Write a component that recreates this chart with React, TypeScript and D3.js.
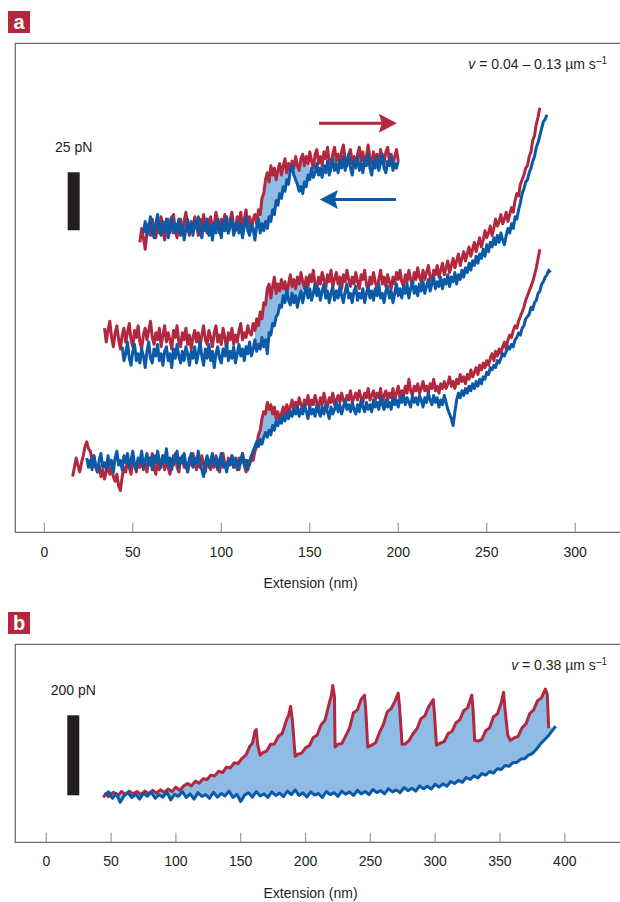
import React from 'react';
import * as d3 from 'd3';

// ---------- colours ----------
const RED = '#b1283f';
const BLUE = '#0b5aa7';
const FILL = '#8fbbe4';
const INK = '#231f20';
const AXIS = '#6e6e6e';
const TICK = '#9a9a9a';
const FONT = '"Liberation Sans", Arial, Helvetica, sans-serif';

// ---------- panel a data (extension nm, force pN, sampled every aStep nm) ----------
const aTicks = [0, 50, 100, 150, 200, 250, 300];
const aStep = 1;

const aTopRedStart = 54;
const aTopRed = [
  125, 131, 127, 122, 129, 133, 128, 135, 131, 127,
  133, 129, 136, 130, 126, 132, 135, 129, 133, 137,
  130, 127, 132, 135, 129, 134, 138, 131, 128, 134,
  130, 136, 133, 128, 135, 131, 137, 132, 129, 134,
  136, 130, 133, 138, 134, 129, 135, 131, 137, 133,
  129, 135, 138, 132, 130, 136, 133, 138, 131, 135,
  139, 132, 136, 130, 135, 137, 133, 139, 137, 144,
  146, 152, 155, 151, 158, 154, 157, 152, 156, 159,
  154, 158, 161, 155, 159, 156, 160, 157, 162, 158,
  156, 161, 163, 158, 162, 159, 164, 160, 157, 163,
  165, 159, 162, 158, 164, 161, 166, 160, 158, 163,
  166, 160, 163, 159, 164, 167, 161, 158, 163, 165,
  159, 162, 157, 163, 166, 160, 164, 158, 162, 167,
  161, 159, 164, 160, 163, 158, 165, 161, 159, 164,
  166, 160, 163, 158, 162, 165, 160,
];
const aTopBlueStart = 56;
const aTopBlue = [
  129, 134, 128, 131, 136, 130, 127, 133, 137, 131,
  128, 134, 130, 135, 127, 132, 136, 129, 133, 130,
  135, 128, 132, 126, 131, 135, 129, 133, 128, 134,
  131, 136, 129, 127, 133, 130, 135, 128, 132, 126,
  133, 129, 135, 131, 127, 134, 130, 136, 129, 132,
  135, 128, 131, 134, 129, 133, 127, 132, 136, 130,
  128, 133, 131, 126, 132, 135, 129, 133, 130, 134,
  131, 136, 134, 139, 137, 143, 141, 146, 144, 149,
  147, 152, 150, 156, 158, 154, 152, 150, 147, 149,
  146, 151, 149, 154, 152, 157, 153, 155, 159, 154,
  157, 153, 158, 155, 160, 154, 157, 161, 156, 159,
  155, 160, 157, 162, 156, 159, 163, 157, 154, 160,
  158, 162, 156, 159, 155, 161, 158, 163, 157, 154,
  160, 157, 162, 156, 159, 163, 157, 155, 160, 158,
  162, 156, 159, 157, 160,
];

const aMidRedStart = 34;
const aMidRed = [
  88, 82, 87, 91, 84, 80, 86, 89, 83, 79,
  85, 88, 82, 86, 90, 83, 80, 87, 84, 89,
  82, 79, 85, 88, 83, 87, 91, 84, 81, 86,
  83, 88, 80, 85, 89, 82, 86, 83, 79, 87,
  84, 89, 82, 80, 86, 83, 88, 81, 85, 79,
  84, 87, 82, 86, 80, 85, 89, 83, 81, 87,
  84, 80, 86, 89, 82, 85, 81, 88, 84, 79,
  86, 83, 88, 81, 85, 82, 87, 90, 83, 86,
  84, 89, 86, 85, 90, 87, 92, 89, 95, 92,
  99, 98, 105, 107, 101, 106, 110, 103, 107, 104,
  109, 105, 108, 103, 107, 111, 106, 109, 105, 110,
  107, 112, 108, 105, 110, 106, 111, 108, 113, 107,
  105, 110, 107, 112, 109, 105, 111, 108, 113, 106,
  109, 112, 107, 110, 105, 111, 108, 113, 109, 106,
  110, 107, 112, 108, 105, 111, 109, 113, 107, 104,
  110, 107, 112, 108, 105, 109, 113, 107, 110, 106,
  111, 108, 105, 110, 107, 112, 109, 113, 108, 106,
  111, 108, 113, 109, 106, 112, 109, 114, 110, 108,
  113, 109, 112, 115, 110, 108, 113, 111, 115, 110,
  113, 116, 111, 114, 117, 112, 115, 118, 114, 117,
  120, 115, 118, 121, 117, 120, 123, 119, 122, 125,
  121, 124, 127, 123, 126, 130, 127, 129, 132, 128,
  131, 135, 132, 134, 137, 133, 135, 138, 134, 137,
  140, 138, 143, 146, 145, 150, 152, 154, 157, 158,
  162, 164, 169, 171, 176, 179, 183,
];
const aMidBlueStart = 44;
const aMidBlue = [
  80, 74, 77, 82, 75, 72, 78, 81, 74, 77,
  73, 79, 76, 71, 78, 82, 75, 73, 79, 76,
  81, 74, 77, 72, 78, 80, 74, 77, 71, 79,
  75, 81, 76, 73, 78, 74, 80, 77, 72, 78,
  75, 80, 73, 77, 82, 76, 72, 79, 75, 81,
  74, 78, 71, 77, 80, 75, 73, 79, 76, 81,
  74, 78, 75, 80, 73, 77, 81, 76, 79, 74,
  80, 77, 82, 76, 79, 83, 78, 81, 79, 84,
  80, 83, 77, 86, 85, 90, 89, 93, 94, 98,
  97, 102, 99, 104, 100, 98, 103, 99, 102, 97,
  101, 104, 99, 103, 106, 101, 105, 100, 103, 107,
  102, 105, 100, 104, 107, 101, 104, 99, 103, 106,
  100, 104, 101, 106, 102, 99, 104, 107, 101, 103,
  99, 104, 106, 100, 103, 101, 105, 99, 103, 106,
  101, 104, 100, 105, 102, 107, 101, 103, 99, 104,
  106, 101, 104, 99, 103, 107, 102, 105, 101, 106,
  103, 107, 101, 105, 108, 103, 106, 102, 107, 104,
  108, 103, 106, 109, 104, 107, 110, 105, 108, 106,
  110, 105, 109, 107, 111, 106, 110, 108, 112, 107,
  111, 109, 113, 110, 114, 112, 116, 113, 117, 115,
  119, 116, 120, 118, 122, 119, 124, 121, 125, 123,
  127, 124, 128, 125, 129, 126, 124, 128, 131, 129,
  133, 131, 136, 135, 139, 142, 146, 148, 151, 152,
  155, 157, 160, 162, 166, 168, 171, 174, 177, 178,
  180,
];

const aBotRedStart = 16;
const aBotRed = [
  24, 28, 32, 29, 26, 30, 33, 37, 39, 36,
  35, 31, 33, 28, 26, 29, 24, 27, 23, 26,
  29, 25, 28, 24, 22, 25, 20, 18, 24, 28,
  26, 31, 28, 25, 32, 29, 26, 31, 28, 33,
  27, 30, 26, 32, 29, 34, 28, 25, 31, 27,
  30, 33, 27, 31, 28, 25, 31, 29, 34, 28,
  26, 31, 33, 28, 30, 26, 32, 29, 34, 30,
  27, 31, 28, 33, 29, 26, 32, 30, 27, 31,
  28, 33, 30, 26, 31, 34, 29, 27, 32, 29,
  33, 28, 31, 27, 32, 30, 34, 29, 26, 31,
  29, 33, 31, 35, 37, 42, 44, 49, 52, 51,
  56, 53, 55, 51, 54, 49, 52, 48, 51, 54,
  50, 55, 52, 54, 57, 53, 56, 54, 58, 55,
  53, 57, 55, 59, 54, 57, 55, 59, 56, 53,
  58, 55, 60, 56, 54, 58, 56, 60, 55, 57,
  59, 56, 60, 57, 55, 59, 57, 61, 56, 58,
  60, 57, 61, 58, 56, 60, 58, 62, 57, 59,
  61, 57, 60, 58, 62, 56, 59, 61, 57, 60,
  58, 62, 57, 60, 63, 58, 61, 59, 63, 60,
  66, 61, 59, 63, 61, 64, 60, 62, 65, 61,
  63, 60, 64, 62, 66, 61, 63, 60, 64, 62,
  65, 62, 64, 67, 63, 65, 62, 66, 64, 68,
  65, 67, 64, 68, 66, 70, 67, 69, 71, 68,
  72, 70, 73, 71, 74, 72, 75, 77, 74, 78,
  76, 79, 77, 80, 82, 79, 83, 85, 84, 87,
  89, 88, 91, 93, 95, 97, 100, 102, 104, 106,
  108, 111, 114, 118, 122,
];
const aBotBlueStart = 24;
const aBotBlue = [
  32, 28, 31, 27, 33, 29, 26, 31, 34, 28,
  30, 27, 33, 29, 31, 26, 32, 35, 29, 31,
  27, 33, 30, 34, 28, 31, 35, 29, 27, 32,
  30, 35, 28, 31, 34, 29, 32, 27, 33, 30,
  35, 31, 28, 33, 30, 36, 29, 32, 27, 33,
  31, 35, 28, 32, 30, 34, 29, 26, 31, 34,
  28, 32, 30, 35, 29, 27, 24, 30, 33, 28,
  31, 34, 29, 32, 27, 31, 34, 28, 30, 26,
  31, 29, 33, 28, 32, 30, 27, 31, 34, 29,
  31, 27, 30, 33, 35, 37, 39, 37, 40, 38,
  41, 43, 41, 44, 42, 46, 44, 48, 46, 49,
  47, 50, 48, 51, 49, 52, 50, 53, 51, 54,
  50, 53, 51, 55, 52, 49, 54, 51, 53, 50,
  55, 52, 50, 54, 51, 55, 52, 49, 54, 51,
  53, 56, 52, 55, 51, 54, 57, 53, 55, 52,
  56, 53, 51, 55, 52, 57, 54, 52, 56, 53,
  55, 52, 57, 54, 56, 53, 58, 55, 53, 57,
  54, 56, 53, 58, 55, 57, 54, 58, 56, 59,
  55, 58, 56, 54, 59, 56, 58, 55, 59, 57,
  54, 58, 56, 60, 57, 55, 59, 56, 58, 54,
  57, 55, 59, 56, 53, 51, 49, 46, 52, 57,
  60, 58, 61, 59, 62, 60, 63, 61, 64, 62,
  65, 63, 66, 64, 67, 66, 69, 68, 71, 70,
  72, 71, 74, 73, 75, 77, 76, 78, 80, 79,
  81, 80, 83, 84, 86, 85, 88, 89, 92, 93,
  94, 97, 96, 99, 100, 103, 104, 107, 108, 110,
  111, 113, 112,
];
// extension ranges (nm) where the unfolding/refolding hysteresis is shaded
const aHysteresis: [number, number][] = [[121, 150], [119, 146], [118, 140]];
// scale bar (pN) and arrows
const aScaleBar = { nm: 13.2, from: 130.2, size: 25 };
const aArrows = [
  { from: 155.2, to: 199.2, force: 176.3, color: RED },
  { from: 198.7, to: 155.7, force: 143.5, color: BLUE },
];

// ---------- panel b data (nm, pN) ----------
const bTicks = [0, 50, 100, 150, 200, 250, 300, 350, 400];
const bRed: [number, number][] = [
  [44, 112], [46, 122], [48, 114], [50, 121], [52, 125], [55, 116], [58, 127], [61, 119],
  [64, 128], [67, 121], [70, 127], [73, 119], [76, 128], [79, 122], [82, 130], [85, 123],
  [88, 131], [91, 125], [94, 133], [97, 127], [100, 138], [103, 130], [106, 141], [109, 147],
  [112, 141], [115, 153], [118, 148], [121, 159], [124, 157], [127, 168], [130, 166], [133, 178],
  [136, 174], [139, 188], [142, 186], [145, 199], [148, 197], [151, 210], [154, 218], [157, 240],
  [159, 247], [161, 278], [162, 282], [163, 245], [165, 218], [167, 224], [170, 228], [173, 245],
  [176, 246], [179, 265], [182, 272], [185, 303], [187, 318], [188.5, 340], [190, 300], [192, 215],
  [194, 220], [197, 223], [200, 236], [203, 242], [206, 262], [209, 268], [212, 294], [215, 305],
  [218, 344], [220, 368], [221, 392], [222.3, 365], [222.8, 238], [225, 245], [228, 247], [231, 266],
  [234, 286], [237, 324], [240, 331], [243, 358], [245.5, 368], [246.5, 330], [248, 238], [251, 243],
  [254, 249], [257, 274], [260, 294], [263, 326], [266, 334], [269, 353], [271.5, 373], [272.5, 340],
  [274.5, 245], [277, 246], [280, 255], [283, 272], [286, 284], [289, 309], [292, 316], [295, 339],
  [298.5, 357], [299.5, 320], [301, 243], [304, 248], [307, 252], [310, 272], [313, 277], [316, 299],
  [319, 306], [322, 329], [325, 336], [328.3, 368], [329.3, 330], [330.5, 255], [333, 253], [336, 257],
  [339, 279], [342, 286], [345, 314], [348, 321], [351, 349], [352.8, 375], [354, 330], [356, 268],
  [358, 255], [361, 261], [364, 265], [367, 286], [370, 296], [373, 322], [376, 331], [379, 354],
  [382, 361], [385, 383], [386.5, 370], [387.6, 285],
];
const bBlue: [number, number][] = [
  [45, 118], [48, 126], [51, 110], [54, 122], [57, 100], [60, 116], [63, 124], [66, 112],
  [69, 120], [72, 108], [75, 122], [78, 115], [81, 125], [84, 110], [87, 119], [90, 113],
  [93, 126], [96, 106], [99, 120], [102, 115], [105, 127], [108, 112], [111, 121], [114, 108],
  [117, 124], [120, 115], [123, 119], [126, 110], [129, 125], [132, 113], [135, 122], [138, 116],
  [141, 128], [144, 112], [147, 120], [150, 102], [153, 118], [156, 124], [159, 113], [162, 127],
  [165, 116], [168, 121], [171, 112], [174, 126], [177, 117], [180, 123], [183, 114], [186, 128],
  [189, 119], [192, 131], [195, 117], [198, 124], [201, 113], [204, 126], [207, 118], [210, 122],
  [213, 112], [216, 127], [219, 119], [222, 124], [225, 115], [228, 128], [231, 120], [234, 126],
  [237, 117], [240, 130], [243, 121], [246, 127], [249, 119], [252, 132], [255, 124], [258, 129],
  [261, 121], [264, 134], [267, 126], [270, 131], [273, 124], [276, 137], [279, 129], [282, 135],
  [285, 128], [288, 141], [291, 134], [294, 140], [297, 133], [300, 145], [303, 138], [306, 146],
  [309, 140], [312, 152], [315, 147], [318, 155], [321, 150], [324, 162], [327, 157], [330, 166],
  [333, 161], [336, 172], [339, 168], [342, 177], [345, 173], [348, 184], [351, 182], [354, 192],
  [357, 190], [360, 199], [363, 200], [366, 208], [369, 209], [372, 218], [375, 222], [378, 232],
  [381, 245], [384, 255], [387, 265], [390, 278], [393, 290],
];
const bScaleBar = { nm: 16.2, from: 117.5, size: 200 };

type Pt = [number, number];
const toPts = (start: number, step: number, vals: number[]): Pt[] =>
  vals.map((v, i) => [start + i * step, v] as Pt);

function Arrow({ x1, x2, y, color }: { x1: number; x2: number; y: number; color: string }) {
  const dir = Math.sign(x2 - x1);
  const headLen = 18;
  const half = 9.5;
  const notch = 3;
  const base = x2 - dir * headLen;
  const head = `M${x2},${y} L${base},${y - half} L${base + dir * notch},${y} L${base},${y + half} Z`;
  return (
    <g>
      <line x1={x1} x2={base + dir * notch + dir} y1={y} y2={y} stroke={color} strokeWidth={3} />
      <path d={head} fill={color} />
    </g>
  );
}

function Panel({
  label, labelY, top, bottom, x, y, ticks, pairs, hysteresis, scaleBar, scaleLabel, speed,
  tickBaseline, titleBaseline, arrows,
}: any) {
  const line = d3.line<Pt>().x(d => x(d[0])).y(d => y(d[1]));
  const left = 15.3;
  const right = 620;
  return (
    <g>
      <rect x={8} y={labelY} width={22} height={22} fill="#b3283f" />
      <text x={19} y={labelY + 17.5} fill="#fff" fontFamily={FONT} fontWeight="bold" fontSize={20} textAnchor="middle">
        {label}
      </text>
      {/* frame */}
      <path d={`M${right},${top} L${left},${top} L${left},${bottom} L${right},${bottom}`} fill="none" stroke={AXIS} strokeWidth={1.3} />
      {ticks.map((t: number) => (
        <g key={t}>
          <line x1={x(t)} x2={x(t)} y1={bottom} y2={bottom - 9.5} stroke={TICK} strokeWidth={1.2} />
          <text x={x(t)} y={tickBaseline} textAnchor="middle" fontFamily={FONT} fontSize={14} fill={INK}>{t}</text>
        </g>
      ))}
      <text x={310.5} y={titleBaseline} textAnchor="middle" fontFamily={FONT} fontSize={14} fill={INK}>Extension (nm)</text>
      {/* scale bar */}
      <rect x={x(scaleBar.nm)} y={y(scaleBar.from + scaleBar.size)} width={12} height={y(scaleBar.from) - y(scaleBar.from + scaleBar.size)} fill={INK} />
      <text x={x(scaleBar.nm) + 6} y={y(scaleBar.from + scaleBar.size) - 20} textAnchor="middle" fontFamily={FONT} fontSize={14} fill={INK}>{scaleLabel}</text>
      {/* speed */}
      <text x={607} y={top + 26} textAnchor="end" fontFamily={FONT} fontSize={14} fill={INK}>
        <tspan fontStyle="italic">v</tspan>
        <tspan>{` = ${speed} \u00b5m s`}</tspan>
        <tspan dy={-5} fontSize={10}>{'\u20131'}</tspan>
      </text>
      {/* traces */}
      {pairs.map((p: { red: Pt[]; blue: Pt[] }, i: number) => {
        const [lo, hi] = hysteresis[i];
        const r = p.red.filter(d => d[0] >= lo && d[0] <= hi);
        const b = p.blue.filter(d => d[0] >= lo && d[0] <= hi).reverse();
        const poly = line([...r, ...b]) + 'Z';
        return <path key={'f' + i} d={poly} fill={FILL} stroke="none" />;
      })}
      {pairs.map((p: { red: Pt[]; blue: Pt[] }, i: number) => (
        <g key={'l' + i}>
          <path d={line(p.red) || ''} fill="none" stroke={RED} strokeWidth={3} strokeLinejoin="round" />
          <path d={line(p.blue) || ''} fill="none" stroke={BLUE} strokeWidth={3} strokeLinejoin="round" />
        </g>
      ))}
      {arrows.map((a: any, i: number) => (
        <Arrow key={i} x1={x(a.from)} x2={x(a.to)} y={y(a.force)} color={a.color} />
      ))}
    </g>
  );
}

export default function App() {
  const W = 620;
  const H = 902;
  const xa = d3.scaleLinear().domain([-16.4, 325.3]).range([15.3, 620]);
  const ya = d3.scaleLinear().domain([0, 210.8]).range([532.3, 43.3]);
  const xb = d3.scaleLinear().domain([-23.9, 442.6]).range([15.3, 620]);
  const yb = d3.scaleLinear().domain([0, 495]).range([842.3, 644.3]);

  const aPairs = [
    { red: toPts(aTopRedStart, aStep, aTopRed), blue: toPts(aTopBlueStart, aStep, aTopBlue) },
    { red: toPts(aMidRedStart, aStep, aMidRed), blue: toPts(aMidBlueStart, aStep, aMidBlue) },
    { red: toPts(aBotRedStart, aStep, aBotRed), blue: toPts(aBotBlueStart, aStep, aBotBlue) },
  ];
  const bPairs = [{ red: bRed, blue: bBlue }];

  return (
    <svg width={W} height={H} style={{ position: 'absolute', left: 0, top: 0, background: '#fff' }}>
      <rect width={W} height={H} fill="#fff" />
      <Panel
        label="a" labelY={11} top={43.3} bottom={532.3} x={xa} y={ya} ticks={aTicks}
        pairs={aPairs} hysteresis={aHysteresis} scaleBar={aScaleBar} scaleLabel="25 pN"
        speed={'0.04 \u2013 0.13'} tickBaseline={556.5} titleBaseline={588} arrows={aArrows}
      />
      <Panel
        label="b" labelY={612} top={644.3} bottom={842.3} x={xb} y={yb} ticks={bTicks}
        pairs={bPairs} hysteresis={[[0, 500]]} scaleBar={bScaleBar} scaleLabel="200 pN"
        speed={'0.38'} tickBaseline={865.5} titleBaseline={897.5} arrows={[]}
      />
    </svg>
  );
}
